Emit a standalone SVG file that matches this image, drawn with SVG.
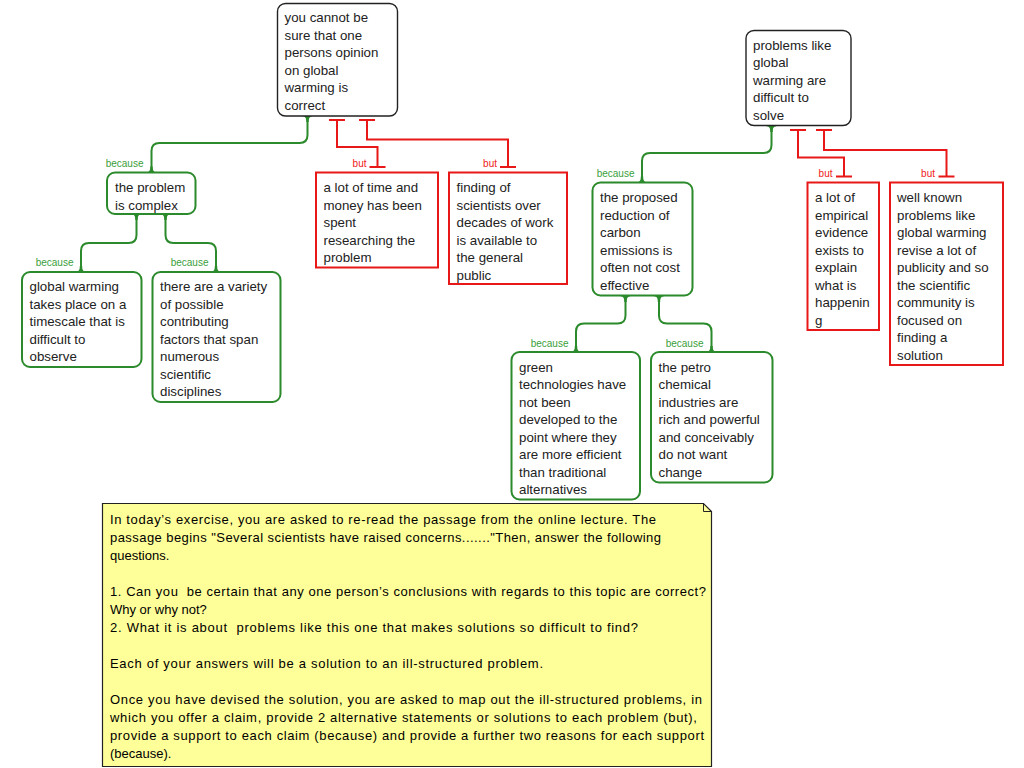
<svg xmlns="http://www.w3.org/2000/svg" xmlns:xlink="http://www.w3.org/1999/xlink" width="1024" height="768" viewBox="0 0 1024 768">
<style>
.t{font-family:"Liberation Sans",Arial,sans-serif;font-size:13.3px;fill:#222}
.claim{fill:#fff;stroke:#222;stroke-width:1.4}
.sup{fill:#fff;stroke:#2b8a2b;stroke-width:2}
.obj{fill:#fff;stroke:#e81818;stroke-width:2}
.gl{fill:none;stroke:#2b8a2b;stroke-width:2}
.rl{fill:none;stroke:#e81818;stroke-width:2}
.lb{font-family:"Liberation Sans",Arial,sans-serif;font-size:10px;text-anchor:end}
.lg{fill:#3aa03a}
.lr{fill:#f02020}
.note{fill:#ffff99;stroke:#222;stroke-width:1.2}
.nt{font-family:"Liberation Sans",Arial,sans-serif;font-size:13px;fill:#000;white-space:pre}
</style>
<defs>
<path id="fs" d="M-7,0 C-2,0 -1.2,2 -1.2,6 L1.2,6 C1.2,2 2,0 7,0 Z" fill="#2b8a2b"/>
<path id="ft" d="M-7,0 C-2,0 -1.2,-2 -1.2,-6 L1.2,-6 C1.2,-2 2,0 7,0 Z" fill="#2b8a2b"/>
</defs>

<g id="connectors">
<path class="gl" d="M307.5,116 V135 Q307.5,143 299.5,143 H159.5 Q151.5,143 151.5,151 V172.5"/>
<use xlink:href="#fs" x="307.5" y="116"/><use xlink:href="#ft" x="151.5" y="172.5"/>
<text class="lb lg" x="143.5" y="166.5">because</text>

<path class="gl" d="M136.5,214 V235 Q136.5,243 128.5,243 H89 Q81,243 81,251 V272"/>
<use xlink:href="#fs" x="136.5" y="214"/><use xlink:href="#ft" x="81" y="272"/>
<text class="lb lg" x="73.5" y="266">because</text>

<path class="gl" d="M165.5,214 V235 Q165.5,243 173.5,243 H208 Q216,243 216,251 V272"/>
<use xlink:href="#fs" x="165.5" y="214"/><use xlink:href="#ft" x="216" y="272"/>
<text class="lb lg" x="208.5" y="266">because</text>

<path class="gl" d="M771.5,126 V145 Q771.5,153 763.5,153 H650 Q642,153 642,161 V182.5"/>
<use xlink:href="#fs" x="771.5" y="126"/><use xlink:href="#ft" x="642" y="182.5"/>
<text class="lb lg" x="634.5" y="177">because</text>

<path class="gl" d="M625.5,296 V315.5 Q625.5,323.5 617.5,323.5 H584 Q576,323.5 576,331.5 V352"/>
<use xlink:href="#fs" x="625.5" y="296"/><use xlink:href="#ft" x="576" y="352"/>
<text class="lb lg" x="568.5" y="347">because</text>

<path class="gl" d="M659,296 V315.5 Q659,323.5 667,323.5 H703.5 Q711.5,323.5 711.5,331.5 V352"/>
<use xlink:href="#fs" x="659" y="296"/><use xlink:href="#ft" x="711.5" y="352"/>
<text class="lb lg" x="703.5" y="347">because</text>

<path class="rl" d="M329,120 H345 M337,120 V147 H377.5 V167 M369.5,167 H385.5"/>
<text class="lb lr" x="366.5" y="167">but</text>
<path class="rl" d="M359,120 H375 M367,120 V139.5 H508 V167 M500,167 H516"/>
<text class="lb lr" x="497" y="167">but</text>
<path class="rl" d="M790,130 H806 M798,130 V157.5 H844 V176.5 M836,176.5 H852"/>
<text class="lb lr" x="832.5" y="177">but</text>
<path class="rl" d="M816,130 H832 M824,130 V150 H946.5 V176.5 M938.5,176.5 H954.5"/>
<text class="lb lr" x="935" y="177">but</text>
</g>

<g id="claim1">
<rect class="claim" x="277.5" y="3.5" width="120" height="112.5" rx="8"/>
<text class="t" x="284.5" y="22">you cannot be</text>
<text class="t" x="284.5" y="39.5">sure that one</text>
<text class="t" x="284.5" y="57">persons opinion</text>
<text class="t" x="284.5" y="74.5">on global</text>
<text class="t" x="284.5" y="92">warming is</text>
<text class="t" x="284.5" y="109.5">correct</text>
</g>

<g id="support1">
<rect class="sup" x="107" y="172.5" width="88.5" height="41.5" rx="8"/>
<text class="t" x="115" y="192">the problem</text>
<text class="t" x="115" y="209.5">is complex</text>
</g>

<g id="reason1a">
<rect class="sup" x="22" y="272" width="119.5" height="95" rx="8"/>
<text class="t" x="29.5" y="291">global warming</text>
<text class="t" x="29.5" y="308.5">takes place on a</text>
<text class="t" x="29.5" y="326">timescale that is</text>
<text class="t" x="29.5" y="343.5">difficult to</text>
<text class="t" x="29.5" y="361">observe</text>
</g>

<g id="reason1b">
<rect class="sup" x="152.5" y="272" width="128" height="130" rx="8"/>
<text class="t" x="160" y="291">there are a variety</text>
<text class="t" x="160" y="308.5">of possible</text>
<text class="t" x="160" y="326">contributing</text>
<text class="t" x="160" y="343.5">factors that span</text>
<text class="t" x="160" y="361">numerous</text>
<text class="t" x="160" y="378.5">scientific</text>
<text class="t" x="160" y="396">disciplines</text>
</g>

<g id="objection1a">
<rect class="obj" x="316" y="172.5" width="122" height="95"/>
<text class="t" x="323.5" y="192">a lot of time and</text>
<text class="t" x="323.5" y="209.5">money has been</text>
<text class="t" x="323.5" y="227">spent</text>
<text class="t" x="323.5" y="244.5">researching the</text>
<text class="t" x="323.5" y="262">problem</text>
</g>

<g id="objection1b">
<rect class="obj" x="449" y="172.5" width="118" height="111.5"/>
<text class="t" x="456.5" y="192">finding of</text>
<text class="t" x="456.5" y="209.5">scientists over</text>
<text class="t" x="456.5" y="227">decades of work</text>
<text class="t" x="456.5" y="244.5">is available to</text>
<text class="t" x="456.5" y="262">the general</text>
<text class="t" x="456.5" y="279.5">public</text>
</g>

<g id="claim2">
<rect class="claim" x="746" y="30.5" width="105" height="95" rx="8"/>
<text class="t" x="753" y="49.5">problems like</text>
<text class="t" x="753" y="67">global</text>
<text class="t" x="753" y="84.5">warming are</text>
<text class="t" x="753" y="102">difficult to</text>
<text class="t" x="753" y="119.5">solve</text>
</g>

<g id="support2">
<rect class="sup" x="592.5" y="182.5" width="100" height="113" rx="8"/>
<text class="t" x="600" y="202">the proposed</text>
<text class="t" x="600" y="219.5">reduction of</text>
<text class="t" x="600" y="237">carbon</text>
<text class="t" x="600" y="254.5">emissions is</text>
<text class="t" x="600" y="272">often not cost</text>
<text class="t" x="600" y="289.5">effective</text>
</g>

<g id="reason2a">
<rect class="sup" x="511.5" y="352" width="128.5" height="147.5" rx="8"/>
<text class="t" x="519" y="371.5">green</text>
<text class="t" x="519" y="389">technologies have</text>
<text class="t" x="519" y="406.5">not been</text>
<text class="t" x="519" y="424">developed to the</text>
<text class="t" x="519" y="441.5">point where they</text>
<text class="t" x="519" y="459">are more efficient</text>
<text class="t" x="519" y="476.5">than traditional</text>
<text class="t" x="519" y="494">alternatives</text>
</g>

<g id="reason2b">
<rect class="sup" x="651" y="352" width="121.5" height="130.5" rx="8"/>
<text class="t" x="658.5" y="371.5">the petro</text>
<text class="t" x="658.5" y="389">chemical</text>
<text class="t" x="658.5" y="406.5">industries are</text>
<text class="t" x="658.5" y="424">rich and powerful</text>
<text class="t" x="658.5" y="441.5">and conceivably</text>
<text class="t" x="658.5" y="459">do not want</text>
<text class="t" x="658.5" y="476.5">change</text>
</g>

<g id="objection2a">
<rect class="obj" x="807.5" y="182.5" width="71.5" height="147.5"/>
<text class="t" x="815" y="202">a lot of</text>
<text class="t" x="815" y="219.5">empirical</text>
<text class="t" x="815" y="237">evidence</text>
<text class="t" x="815" y="254.5">exists to</text>
<text class="t" x="815" y="272">explain</text>
<text class="t" x="815" y="289.5">what is</text>
<text class="t" x="815" y="307">happenin</text>
<text class="t" x="815" y="324.5">g</text>
</g>

<g id="objection2b">
<rect class="obj" x="890" y="182.5" width="113" height="182.5"/>
<text class="t" x="897" y="202">well known</text>
<text class="t" x="897" y="219.5">problems like</text>
<text class="t" x="897" y="237">global warming</text>
<text class="t" x="897" y="254.5">revise a lot of</text>
<text class="t" x="897" y="272">publicity and so</text>
<text class="t" x="897" y="289.5">the scientific</text>
<text class="t" x="897" y="307">community is</text>
<text class="t" x="897" y="324.5">focused on</text>
<text class="t" x="897" y="342">finding a</text>
<text class="t" x="897" y="359.5">solution</text>
</g>

<g id="note">
<path class="note" d="M102.5,503.5 H703.5 L711.5,511.5 V766.5 H102.5 Z"/>
<path d="M703.5,503.5 V511.5 H711.5" fill="none" stroke="#222" stroke-width="1"/>
<text class="nt" x="110" y="524" textLength="546" lengthAdjust="spacing">In today’s exercise, you are asked to re-read the passage from the online lecture. The</text>
<text class="nt" x="110" y="542" textLength="551" lengthAdjust="spacing">passage begins "Several scientists have raised concerns......."Then, answer the following</text>
<text class="nt" x="110" y="560">questions.</text>
<text class="nt" x="110" y="596" textLength="596" lengthAdjust="spacing">1. Can you  be certain that any one person’s conclusions with regards to this topic are correct?</text>
<text class="nt" x="110" y="614">Why or why not?</text>
<text class="nt" x="110" y="632" textLength="528" lengthAdjust="spacing">2. What it is about  problems like this one that makes solutions so difficult to find?</text>
<text class="nt" x="110" y="668" textLength="433" lengthAdjust="spacing">Each of your answers will be a solution to an ill-structured problem.</text>
<text class="nt" x="110" y="704" textLength="592" lengthAdjust="spacing">Once you have devised the solution, you are asked to map out the ill-structured problems, in</text>
<text class="nt" x="110" y="722" textLength="587" lengthAdjust="spacing">which you offer a claim, provide 2 alternative statements or solutions to each problem (but),</text>
<text class="nt" x="110" y="740" textLength="594" lengthAdjust="spacing">provide a support to each claim (because) and provide a further two reasons for each support</text>
<text class="nt" x="110" y="758">(because).</text>
</g>
</svg>
